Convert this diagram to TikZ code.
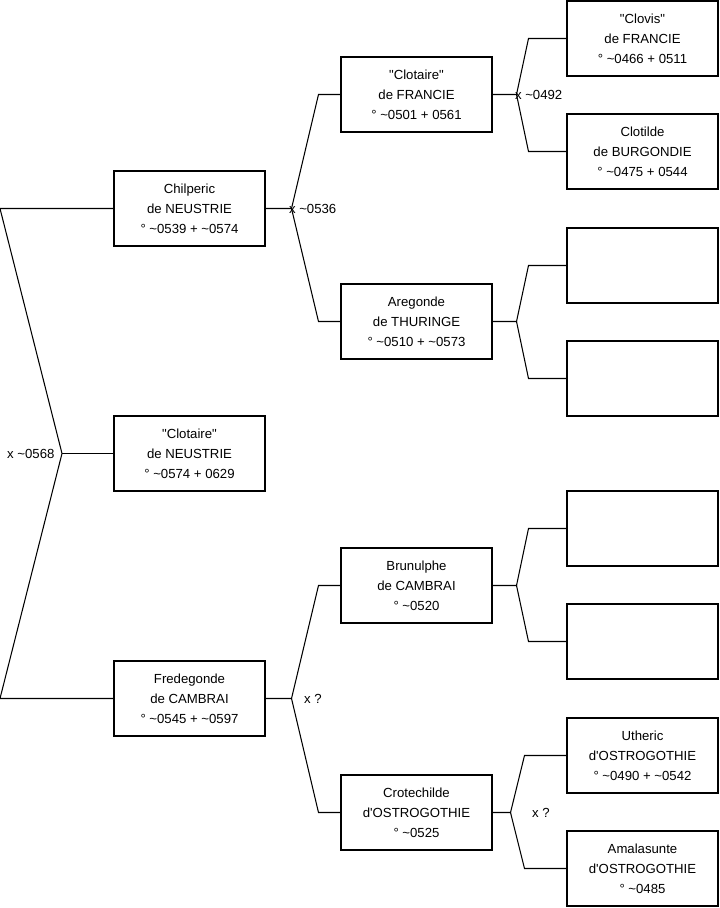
\documentclass[tikz,border=0pt]{standalone}
\usepackage{fontspec}
\setmainfont{Liberation Sans}
\usetikzlibrary{calc}
\newcommand{\tld}{\textasciitilde}
\newcommand{\qt}[1]{\textquotedbl#1\textquotedbl}

\begin{document}
\begin{tikzpicture}[x=0.02cm,y=-0.02cm,line width=0.6pt]
  \tikzstyle{person}=[draw,minimum width=3.02cm,minimum height=1.5cm,
    inner sep=0pt,align=center,font=\fontsize{7.5}{11.3}\selectfont]
  \tikzstyle{union}=[inner sep=0pt,font=\fontsize{7.5}{9}\selectfont]
  \useasboundingbox (0,0) rectangle (719,908);
  % first column
  \node[person] (chil) at (189.5,208.5) {Chilperic\\de NEUSTRIE\\° \tld0539 + \tld0574};
  \node[person] (clN) at (189.5,453.5) {\qt{Clotaire}\\de NEUSTRIE\\° \tld0574 + 0629};
  \node[person] (fred) at (189.5,698.5) {Fredegonde\\de CAMBRAI\\° \tld0545 + \tld0597};
  % second column
  \node[person] (clF) at (416.5,94.5) {\qt{Clotaire}\\de FRANCIE\\° \tld0501 + 0561};
  \node[person] (areg) at (416.5,321.5) {Aregonde\\de THURINGE\\° \tld0510 + \tld0573};
  \node[person] (brun) at (416.5,585.5) {Brunulphe\\de CAMBRAI\\° \tld0520};
  \node[person] (crot) at (416.5,812.5) {Crotechilde\\d\textquotesingle OSTROGOTHIE\\° \tld0525};
  % third column
  \node[person] (clov) at (642.5,38.5) {\qt{Clovis}\\de FRANCIE\\° \tld0466 + 0511};
  \node[person] (clot) at (642.5,151.5) {Clotilde\\de BURGONDIE\\° \tld0475 + 0544};
  \node[person] (e1) at (642.5,265.5) {};
  \node[person] (e2) at (642.5,378.5) {};
  \node[person] (e3) at (642.5,528.5) {};
  \node[person] (e4) at (642.5,641.5) {};
  \node[person] (uth) at (642.5,755.5) {Utheric\\d\textquotesingle OSTROGOTHIE\\° \tld0490 + \tld0542};
  \node[person] (amal) at (642.5,868.5) {Amalasunte\\d\textquotesingle OSTROGOTHIE\\° \tld0485};
  % left fork
  \coordinate (v0) at (62,453.5);
  \coordinate (l1) at (0,208.5);
  \coordinate (l2) at (0,698.5);
  \draw (chil.west) -- (l1) -- (v0) -- (l2) -- (fred.west);
  \draw (v0) -- (clN.west);
  \node[union,anchor=east] (m0) at ($(v0)+(-7,0)$) {x \tld0568};
  % forks to second column
  \coordinate (v1) at ($(chil.east)+(26,0)$);
  \draw (chil.east) -- (v1) -- ($(clF.west)+(-22,0)$) -- (clF.west);
  \draw (v1) -- ($(areg.west)+(-22,0)$) -- (areg.west);
  \node[union,anchor=west] (m1) at ($(v1)+(-3,0)$) {x \tld0536};
  \coordinate (v2) at ($(fred.east)+(26,0)$);
  \draw (fred.east) -- (v2) -- ($(brun.west)+(-22,0)$) -- (brun.west);
  \draw (v2) -- ($(crot.west)+(-22,0)$) -- (crot.west);
  \node[union,anchor=west] (m2) at ($(v2)+(12,0)$) {x ?};
  % forks to third column
  \coordinate (v3) at ($(clF.east)+(24,0)$);
  \draw (clF.east) -- (v3) -- ($(clov.west)+(-38,0)$) -- (clov.west);
  \draw (v3) -- ($(clot.west)+(-38,0)$) -- (clot.west);
  \node[union,anchor=west] (m3) at ($(v3)+(-2,0)$) {x \tld0492};
  \coordinate (v4) at ($(areg.east)+(24,0)$);
  \draw (areg.east) -- (v4) -- ($(e1.west)+(-38,0)$) -- (e1.west);
  \draw (v4) -- ($(e2.west)+(-38,0)$) -- (e2.west);
  \coordinate (v5) at ($(brun.east)+(24,0)$);
  \draw (brun.east) -- (v5) -- ($(e3.west)+(-38,0)$) -- (e3.west);
  \draw (v5) -- ($(e4.west)+(-38,0)$) -- (e4.west);
  \coordinate (v6) at ($(crot.east)+(18,0)$);
  \draw (crot.east) -- (v6) -- ($(uth.west)+(-42,0)$) -- (uth.west);
  \draw (v6) -- ($(amal.west)+(-42,0)$) -- (amal.west);
  \node[union,anchor=west] (m4) at ($(v6)+(21,0)$) {x ?};
\end{tikzpicture}
\end{document}
